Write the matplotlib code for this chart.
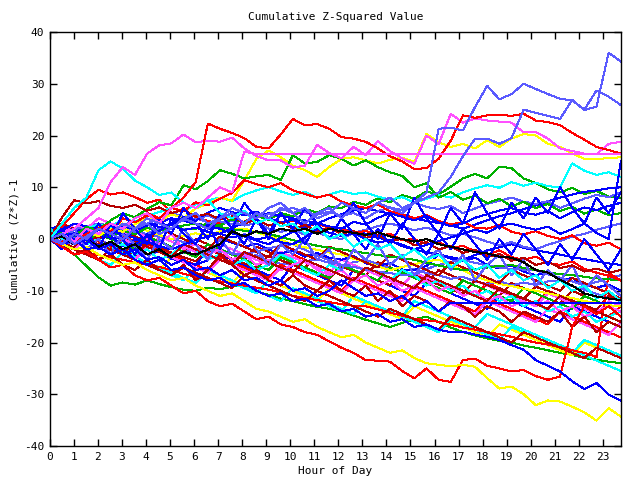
import numpy as np
import matplotlib
matplotlib.use("Agg")
import matplotlib.pyplot as plt

# ---- colours used by the original palette ----
RED = '#ff0000'; DKRED = '#b40000'; GREEN = '#00b000'; BLUE = '#0000ff'
LTBLUE = '#5a5aff'; CYAN = '#00ffff'; MAGENTA = '#ff50ff'; YELLOW = '#ffff00'; BLACK = '#000000'

title = "Cumulative Z-Squared Value"
xlabel = "Hour of Day"
ylabel = "Cumulative (Z*Z)-1"
xticks = list(range(24))
yticks = [-40, -30, -20, -10, 0, 10, 20, 30, 40]

# ---- series (~every half hour from 0 to 23.75 h) ----
s_ltblue_a = [0, 1, -1, 0.5, 2, 1, 3, 2,  4, 3, 2, 4, 5, 3, 4, 6,  5, 4, 6, 7, 5, 6, 4, 5,
              7, 6, 5, 7, 8, 6, 7, 9,  21.3, 21.5, 21, 25.5, 29.6, 27, 28, 30,  29, 28, 27.1, 26.8, 25, 28.7, 27.5, 25.9]
s_ltblue_b = [0, -1, 1, 0, 2, 1, 0, 2,  3, 1, 2, 4, 3, 2, 4, 5,  3, 5, 4, 6, 5, 3, 5, 6,
              4, 6, 5, 7, 6, 5, 7, 8,  9, 12, 16, 19.4, 19.4, 18.4, 19.5, 25,  24.4, 23.8, 23.2, 26.9, 24.9, 25.6, 36, 34.3]
s_mag_flat = [0, 1, -0.5, 2, 1, 3, 2, 4,  5, 3, 6, 7, 6, 8, 10, 9,  16.9, 16.4, 16.4, 16.4, 16.4, 16.4, 16.4, 16.4,
              16.4, 16.4, 16.4, 16.4, 16.4, 16.4, 16.4, 16.4,  16.4, 16.4, 16.4, 16.4, 16.4, 16.4, 16.4, 16.4,
              16.4, 16.4, 16.4, 16.4, 16.4, 16.4, 16.4, 16.4]
s_mag_high = [0, 1, 2, 4, 6, 11, 13.9, 12.4,  16.5, 18.1, 18.5, 20.2, 18.7, 19, 18.8, 19.6,
              17.5, 16, 15.2, 15.2, 13.8, 14.2, 18.2, 16.6,  15.6, 17.8, 16.2, 18.9, 17, 15.6, 14.5, 20,
              18.3, 24.2, 22.5, 23.3, 22.9, 22.7, 22.5, 20.6,  20.7, 19.4, 17.5, 17, 16.5, 16.4, 18.4, 18.8]
s_red_high = [0, 1, -0.5, 1, 2, 3, 2, 4,  5, 4, 6, 8, 11, 22.3, 21.3, 20.5,
              19.5, 17.8, 17.5, 20.2, 23.2, 22, 22.2, 21.3,  19.7, 19.4, 18.8, 17.5, 16, 15, 13.5, 13.7,
              15.5, 19, 23.9, 23.4, 23.9, 24, 23.8, 24.2,  22.9, 22.6, 22, 20.5, 19.2, 17.8, 17.2, 16.5]
s_cyan_high = [0, 3, 6, 8, 13.3, 15, 13.6, 11.3,  10, 8.5, 9, 7, 6, 7.5, 5, 4,
               5.5, 3, 4, 2.5, 3, 1, 2.5, 0,  1, -1.5, 0, -2, -1, -3.5, -2, -4,
               -3, -5.5, -4, -6, -5, -7.5, -6, -8,  -7, -9.5, -8, -10, -9, -11.5, -10, -12]
s_yel_low = [0, -1, -2, -1.5, -3, -4, -5, -4.5,  -6, -7, -8, -7.5, -9, -10, -11, -10.5,
             -12, -13.5, -14, -15, -16, -15.5, -17, -18,  -19, -18.5, -20, -21, -22, -21.5, -23, -24,
             -24.3, -24.6, -24.3, -24.7, -26.9, -28.9, -28.5, -30,  -32.1, -31.2, -31.4, -32.4, -33.5, -35.1, -32.7, -34.3]
s_blue_low = [0, -1, 0, -2, -1.5, -3, -2, -4,  -5, -4, -6, -5.5, -7, -8, -7.5, -9,
              -8.5, -10, -11, -10.5, -12, -11.5, -13, -12.5,  -14, -13.5, -15, -14.5, -16, -15.5, -17, -16.5,
              -17.5, -18, -17.9, -18.5, -18.9, -19.5, -20.5, -21.4,  -23.4, -24.5, -25.6, -27.5, -29, -27.8, -30.1, -31.2]
s_red_low = [0, -1.5, -3, -2.5, -4, -5.5, -5, -7,  -8, -7.5, -9, -10.5, -10, -12, -13, -12.5,
             -14, -15.5, -15, -16.5, -17, -18, -18.5, -19.8,  -21, -22, -23.4, -23.5, -23.7, -25.5, -26.9, -25,
             -27.2, -27.6, -23.4, -23.1, -24.5, -25, -25.6, -25.3,  -26.5, -27.2, -26.6, -17, -13, -14.5, -13, -15]
s_blue_flat = [0, 1, -1, 0, -2, -1, -3, -2,  -4, -3.5, -5, -4, -6, -5.5, -7, -6,
               -8, -7.5, -9, -8, -10, -9.5, -11, -10,  -8, -9.5, -11, -10.5, -12, -11, -13, -12,
               -14, -12.3, -12.3, -12.3, -12.3, -12.3, -12.3, -12.3,  -12.3, -12.3, -12.3, -12.3, -12.3, -12.3, -12.3, -12.3]
s_black = [0, 0.5, -1, 0, -1.5, -0.5, -2, -1,  -3, -2, -3.5, -2.5, -3, -2, -1, 1.5,
           0.5, 1.5, 1, 2, 1.5, 2, 1, 2,  1.5, 1.2, 0.8, 1.3, 0.5, 0, -0.5, 0,
           -1, -1.5, -2, -2.5, -2.8, -3.4, -3.6, -4.5,  -6, -6.5, -7.9, -9, -10.5, -11.1, -11.5, -11.8]

g01 = [0, -1, 1, 0, -1, -2, 0.5, -0.5, -1.5, -2.5, -3.5, -1, -2, -3, -4, -5,
       -2.5, -3.5, -4.5, -5.5, -3, -4, -5, -6, -7, -8, -5.5, -6.5, -7.5, -8.5, -9.5, -7,
       -8, -9, -10, -11, -8.5, -9.5, -10.5, -11.5, -12.5, -10, -11, -12, -13, -14, -15, -13]
g02 = [1, 0, 3, 2, 1, 0, -1, 1.5, 0.5, -0.5, -1.5, -2.5, 0, -1, -2, -3,
       -4, -1.5, -2.5, -3.5, -4.5, -5.5, -3, -4, -5, -6, -7, -4.5, -5.5, -6.5, -7.5, -8.5,
       -6, -7, -8, -9, -10, -11, -8.5, -9.5, -10.5, -11.5, -12.5, -10, -11, -12, -13, -14]
g03 = [0, 1.2, 0.5, 2.3, 1.8, 3.6, 5, 4.2, 5.8, 7.1, 6.5, 10.4, 9.6, 11.2, 13.3, 12.6,
       11.7, 12.1, 12.4, 11.4, 16.2, 14.6, 14.9, 16.2, 15.5, 14.2, 15.2, 13.9, 12.9, 12.2, 10, 10.8,
       8, 9.1, 7.6, 8.4, 6.9, 7.8, 6.3, 7.2, 6, 6.8, 5.4, 6.2, 4.9, 5.7, 4.6, 5]
g04 = [0, -0.8, 0.4, -0.3, 1.1, 0.5, 1.6, 0.9, 2.2, 1.5, 2.8, 1.9, 2, 3.1, 2.6, 3.8,
       3.2, 4.5, 3.7, 5, 4.4, 5.8, 5.1, 6.3, 6, 7.2, 6.6, 7.9, 7.1, 8.5, 7.8, 9.2,
       8.6, 10.1, 11.7, 12.6, 11.7, 14, 13.7, 11.7, 10.8, 9.6, 9, 9.9, 8.7, 9.3, 8.2, 8]
g05 = [0, 0.8, -0.4, 1.2, 0.6, 2, 1.4, 2.9, 4, 3.3, 4.8, 4.1, 5.9, 6.8, 8, 7.4,
       11.3, 15.5, 17.1, 15.8, 14.2, 13.3, 12, 13.9, 15.5, 15.8, 15.2, 14.6, 15.3, 15.7, 14.9, 20.3,
       18.7, 17.8, 18.4, 17.5, 19.1, 17.8, 19.4, 20.3, 20, 18.4, 17.8, 16.5, 15.5, 15.5, 15.6, 15.8]
g06 = [0, 4.2, 7.5, 6.9, 7.3, 6.4, 6, 6.6, 5.5, 6.1, 5, 5.6, 4.3, 4.9, 3.8, 4.4,
       3, 3.7, 2.6, 3.2, 2, 2.7, 1.5, 2.1, 1, 1.6, 0.2, 0.8, -0.5, 0.1, -1.2, -0.6,
       -2, -1.4, -2.7, -2.1, -3.5, -2.9, -4.2, -3.6, -5, -4.4, -5.6, -5.1, -6.3, -5.7, -6.5, -6]
g07 = [0, 2.4, 5, 7.7, 9.5, 8.6, 9, 8.1, 7, 7.6, 5, 5.8, 4.2, 3.5, 3, 3.9,
       3.3, 4.5, 4, 3.1, 3.6, 2.5, 3, 2.2, 2, 1.1, 1.6, 0.5, 1, -0.2, 0, -1,
       -0.6, -1.8, -1.3, -2.4, -3, -2.2, -3.5, -4, -3.4, -4.6, -5, -4.3, -5.8, -6.5, -7.1, -8]
g08 = [0, -0.6, 0.8, 0.2, 2, 1.4, 4, 3.2, 4.6, 3.9, 6, 5.4, 7.1, 6.5, 7.8, 8.9,
       11.4, 10.6, 10, 10.8, 9.4, 8.7, 8, 8.6, 7.2, 6.5, 6, 6.7, 5.3, 4.8, 4, 4.6,
       3.5, 2.8, 3.3, 2.2, 2, 2.7, 1.4, 0.9, 1.5, 0.6, 0, 0.7, -0.8, -1.3, -0.7, -2]
g09 = [0, 0.7, -0.5, 0.2, -1.3, -0.6, -2, -1.1, 0.5, 1.6, 3, 4.2, 3.5, 5.1, 6, 5.2,
       4.6, 5.3, 4, 3.2, 3.8, 2.6, 3.1, 2.4, 2, 3.3, 2.8, 4.1, 5, 4.3, 3.6, 4.4,
       3.2, 2.5, 3, 4.1, 4.8, 5.5, 6, 5.1, 4.7, 5.4, 4, 5.2, 6.1, 5.6, 6.4, 7]
g10 = [2, 2.6, 1.2, 1.7, 0, 0.6, -1.4, -0.8, -3, -2.3, -3.8, -4.4, -5, -4.1, 0, -0.7,
       -1.5, -0.9, -2, -2.8, -2.2, -3.4, -2.7, -3.6, -4, -3.3, -4.7, -5.2, -4.6, -5.9, -6, -5.2,
       -3, -3.8, -4.3, -3.6, -5, -5.7, -5.1, -6.3, -7, -6.4, -8, -7.5, -8.9, -9.4, -8.8, -10]
g11 = [0, 0.6, 1.1, 0.4, 1.8, 1.2, 2.4, 1.9, 3, 2.3, 2.8, 1.7, 2.2, 1.4, 1, 0.3,
       0.8, -0.1, 0.4, -0.6, -1, 0.3, 2, 1.2, 0.6, 1.1, 0, -0.7, -0.2, -1.4, -2, -1.1,
       -0.4, 0.3, 1, 1.8, 1.2, 2.5, 3, 2.3, 1.8, 2.4, 1, 1.9, 3, 1.2, 0, 15]
g12 = [0, -1, -2, -3, -1, -2, -3, 0, -1, -2, -3, -4, -5, -2, -3, -4,
       -5, -6, -7, -8, -5, -6, -7, -8, -9, -6, -7, -8, -9, -10, -11, -8.5,
       -9.5, -10.5, -11.5, -12.5, -13.5, -11, -12, -13, -14, -15, -16, -13, -14, -15, -16, -17]
g13 = [0, 0.9, 0.3, 1.5, 2, 1.4, 2.7, 3.5, 2.9, 4.1, 5, 4.3, 3.8, 4.6, 3.4, 2.9,
       3, 4.2, 4.8, 5.5, 6, 5.2, 4.7, 5.3, 4.5, 5, 4, 5.4, 6.1, 5.6, 7, 6.2,
       5.8, 6.4, 5, 5.9, 6.8, 7.4, 8, 7.2, 6.8, 7.3, 6, 6.9, 7.8, 8.5, 8.1, 9]
g14 = [1, 1.5, 0.4, 0.9, -0.3, -1, -0.4, -1.7, -3, -2.4, -3.3, -2.6, -1.9, -2.5, -2, -2.9,
       -3.6, -3.1, -4.2, -4.8, -5, -4.3, -3.9, -4.6, -5.2, -4.5, -4, -4.9, -5.6, -6.3, -5.8, -6.6,
       -7, -7.7, -7.3, -8.2, -8.7, -8.1, -9, -8.4, -8.9, -8.2, -8, -9.1, -9.8, -10.6, -11.3, -12]
g15 = [0, 0.8, 1.9, 2.4, 3, 2.5, 1.8, 1.3, 1, 2.1, 2.7, 3.6, 4, 3.3, 2.9, 3.5,
       2.6, 3.1, 2, 1.4, 1.9, 0.8, 1.3, 0.4, 0, 1.2, 1.8, 2.5, 3, 2.4, 1.7, 2.2,
       1.5, 0.7, 1, 0.3, -0.5, -1.2, -0.6, -1.5, -2, -1.1, -0.4, 0.5, 1, 1.8, 2.4, 3]
g16 = [0, -1, -2, -3, -4, -2, -3, -4, -5, -6, -7, -8, -5.5, -6.5, -7.5, -8.5,
       -9.5, -10.5, -8, -9, -10, -11, -12, -13, -14, -11, -12, -13, -14, -15, -12, -13,
       -14, -15, -16, -17, -14.5, -15.5, -16.5, -17.5, -18.5, -19.5, -20.5, -21.5, -22.5, -23.5, -24.5, -25.5]
g17 = [0, 1.2, 0.6, 2, 2.8, 2.2, 4, 3.3, 4.5, 5.2, 6, 5.4, 6.7, 7.5, 8, 7.3,
       8.6, 9.4, 10, 9.2, 8.5, 9.1, 8, 8.6, 9.3, 8.7, 9, 8.2, 7.6, 8.1, 7, 7.8,
       8.5, 8, 9, 9.8, 10.4, 9.9, 11, 10.3, 10.9, 10.2, 10, 14.6, 13.2, 12.4, 12.9, 12]
g18 = [0, -1, -2, -3, -4, -5, -2.5, -3.5, -4.5, -5.5, -6.5, -7.5, -8.5, -6, -7, -8,
       -9, -10, -11, -12, -9.5, -10.5, -11.5, -12.5, -13.5, -14.5, -12, -13, -14, -15, -16, -17,
       -18, -15.5, -16.5, -17.5, -18.5, -19.5, -17, -18, -19, -20, -21, -22, -19.5, -20.5, -21.5, -22.5]
g19 = [0, 1.5, 0.5, -0.5, 2, 1, 0, -1, -2, 0.5, -0.5, -1.5, -2.5, -3.5, -1, -2,
       -3, -4, -5, -2.5, -3.5, -4.5, -5.5, -6.5, -4, -5, -6, -7, -8, -9, -6.5, -7.5,
       -8.5, -9.5, -10.5, -8, -9, -10, -11, -12, -13, -10.5, -11.5, -12.5, -13.5, -14.5, -12, -13]
g20 = [0, -1, -2, 0, -1, -2, -3, -4, -1.5, -2.5, -3.5, -4.5, -5.5, -6.5, -4, -5,
       -6, -7, -8, -5.5, -6.5, -7.5, -8.5, -9.5, -10.5, -8, -9, -10, -11, -12, -9.5, -10.5,
       -11.5, -12.5, -13.5, -14.5, -12, -13, -14, -15, -16, -13.5, -14.5, -15.5, -16.5, -17.5, -18.5, -16]
g21 = [0, -1, -2, -3, -1, -2, -3, -4, -5, -6, -3.5, -4.5, -5.5, -6.5, -7.5, -8.5,
       -6, -7, -8, -9, -10, -11, -12, -9.5, -10.5, -11.5, -12.5, -13.5, -14.5, -15.5, -13, -14,
       -15, -16, -17, -18, -19, -16.5, -17.5, -18.5, -19.5, -20.5, -21.5, -22.5, -20, -21, -22, -23]
g22 = [0, 0.4, 1, 1.8, 2.4, 2.9, 3, 2.3, 1.6, 0.8, 0, 0.6, 1.1, 0.7, 1.5, 1.9,
       2, 1.3, 0.6, -0.2, -1, -1.6, -2.1, -2.6, -3, -3.8, -4.5, -5.3, -6, -5.4, -4.9, -4.3,
       -4, -5.1, -6, -7.2, -8, -8.7, -9.1, -9.6, -10, -10.5, -11, -11.4, -12, -12.3, -12.8, -13]
g23 = [0, -1.5, -3, -5.2, -7.4, -9, -8.4, -8.8, -8, -8.7, -9.3, -9.8, -10, -9.4, -9.7, -9.2,
       -9, -10.1, -10.8, -11.5, -12, -12.6, -13.1, -13.5, -14, -14.8, -15.6, -16.3, -17, -16.2, -15.5, -15,
       -16, -17.1, -18, -18.6, -19.2, -19.7, -20, -20.6, -21, -21.5, -22, -22.4, -23, -23.3, -23.7, -24]
g24 = [0, 1, 0, 2, 1, 0, -1, -2, 0.5, -0.5, -1.5, -2.5, -3.5, -1, -2, -3,
       -4, -5, -6, -3.5, -4.5, -5.5, -6.5, -7.5, -5, -6, -7, -8, -5.5, -6.5, -7.5, -8.5,
       -9.5, -10.5, -8, -9, -10, -11, -12, -9.5, -10.5, -11.5, -12.5, -13.5, -11, -12, -13, -14]
g25 = [0, -0.8, -1.6, 0.5, -0.3, -1.2, -2, -2.9, -0.8, -1.7, -2.6, -3.5, -4.3, -2, -2.9, -3.8,
       -4.7, -5.6, -3.2, -4.1, -5, -5.9, -6.8, -7.7, -5.3, -6.2, -7.1, -8, -8.9, -6.1, -7, -7.9,
       -8.8, -9.7, -10.6, -8, -8.9, -9.8, -10.7, -11.6, -9.2, -10.1, -11, -11.9, -12.8, -13.7, -11, -12]
g26 = [1, 3, 2, 1, 0, 2.5, 1.5, 0.5, -0.5, 2, 1, 0, -1, -2, 0.5, -0.5,
       -1.5, -2.5, -3.5, -1, -2, -3, -4, -1.5, -2.5, -3.5, -4.5, -5.5, -3, -4, -5, -6,
       -7, -4.5, -5.5, -6.5, -7.5, -8.5, -6, -7, -8, -9, -10, -7.5, -8.5, -9.5, -10.5, -11.5]
g27 = [0, -1.2, -2, -2.6, -3.1, -3.6, -4, -4.5, -5, -5.4, -6, -6.7, -7.3, -7.8, -8.2, -8.6,
       -9, -9.4, -9.8, -10.3, -11, -11.4, -11.8, -12.2, -12.6, -12.9, -13, -13.6, -14.2, -14.8, -15.4, -15.7,
       -16, -16.6, -17.1, -17.5, -18, -18.4, -18.9, -19.5, -20, -20.4, -20.9, -21.5, -22, -22.8, -6.6, -8]
g28 = [0, 1.1, 2, 1.3, 0.8, 0.3, 0, 1.4, 2.6, 3.2, 4, 3.5, 3, 2.4, 2, 1.1,
       0.5, -0.3, -1, 0.2, 1.4, 2.3, 3, 2.4, 2, 1.5, 1, 0.3, -0.4, -1.1, -2, -2.6,
       -3, -3.5, -4, -3.1, -2.2, -1.6, -1, -1.7, -2.2, -2.6, -3, -3.5, -3.9, -4.3, -4.7, -5]
g29 = [0, -0.4, -1, 0.2, 0.9, 1.5, 2, 1.3, 0.9, 0.4, 0, -0.6, -1.2, -1.9, -2.5, -2.8,
       -3, -2.4, -1.8, -1.3, -1, -2.1, -3.2, -4.1, -5, -5.4, -5.9, -6.3, -6.6, -6.9, -7, -5.8,
       -5, -4.4, -4, -4.6, -5.1, -5.5, -5.8, -5.9, -6, -6.8, -7.5, -8.2, -9, -8.3, -7.6, -7]
g30 = [0, 1.6, 3, 2.4, 2, 1.5, 1, 0.2, -0.6, -1.4, -2, -1.1, -0.2, 0.5, 1, 2.1,
       3.2, 4.1, 5, 4.5, 4, 3.6, 3, 4, 4.8, 5.5, 6, 5.4, 4.9, 4.5, 4, 3.5,
       3.1, 2.6, 2, 2.8, 3.6, 4.4, 5, 5.8, 6.5, 7.3, 8, 8.6, 9.1, 9.4, 9.8, 10]
g31 = [0, -1, 1, 0, -1, -2, -3, -0.5, -1.5, -2.5, -3.5, -1, -2, -3, -4, -5,
       -2.5, -3.5, -4.5, -5.5, -6.5, -4, -5, -6, -7, -8, -5.5, -6.5, -7.5, -8.5, -9.5, -7,
       -8, -9, -10, -11, -12, -9.5, -10.5, -11.5, -12.5, -13.5, -11, -12, -13, -14, -15, -16]
g32 = [0, 0.6, 1.1, 1.5, 2, 1.7, 1.4, 1.2, 1, 1.6, 2.1, 2.6, 3, 2.6, 2.3, 1.9,
       1.6, 1.3, 1, 0.4, -0.2, -0.8, -1.3, -1.7, -2, -2.4, -2.7, -3.1, -3.4, -3.7, -4, -4.6,
       -5.1, -5.6, -6, -5.8, -5.5, -5.2, -5, -5.6, -6, -6.4, -6.8, -7, -7.3, -7.6, -7.8, -8]
g33 = [0, -1, -2, 0.5, -0.5, -1.5, -2.5, -3.5, -1, -2, -3, -4, -5, -6, -3.5, -4.5,
       -5.5, -6.5, -7.5, -5, -6, -7, -8, -9, -10, -7.5, -8.5, -9.5, -10.5, -11.5, -9, -10,
       -11, -12, -13, -14, -11.5, -12.5, -13.5, -14.5, -15.5, -16.5, -14, -15, -16, -17, -18, -19]
g34 = [0, -1, -2, -3, -4, -2, -3, -4, -5, -6, -7, -5.5, -6.5, -7.5, -8.5, -9.5,
       -7, -8, -9, -10, -11, -12, -10, -11, -12, -13, -14, -15, -13.5, -14.5, -15.5, -16.5,
       -17.5, -15, -16, -17, -18, -19, -20, -18, -19, -20, -21, -22, -23, -21, -22, -23]
g35 = [0, 2, -1, 1.5, -2, 3, 0, -3, 1, -2, 4, 1, -1, 3, -2, 2,
       -1, 4, 0, 5, 2, -1, 3, 0, 4, 1, -2, 2, -1, 3, 0, -3,
       1, -2, 2, -1, -4, 0, -3, 1, -2, -5, -1, -4, 0, -3, -6, -2]
g36 = [1, -1, 2, -2, 0, -3, 1, -1, -4, 0, -2, 2, -1, -4, 0, -3,
       1, -2, -5, -1, -3, 0, -4, -2, -6, -2, -4, -1, -5, -3, -7, -4,
       -2, -6, -3, -8, -5, -3, -7, -4, -9, -6, -8, -5, -10, -7, -9, -11]
g37 = [0, -2, 1, -1, 3, 0, 5, 2, -1, 4, 1, 6, 3, 0, 5, 2,
       7, 4, 1, 5, 2, 6, 3, 0, 4, 7, 3, 0, 5, 2, 8, 4,
       1, 6, 3, 9, 5, 2, 7, 4, 8, 5, 10, 6, 3, 8, 5, 9]
g38 = [0, -1, -3, -2, -4, -3, -5, -6, -4, -6, -7, -5, -8, -6, -3, -5,
       -7, -6, -8, -9, -7, -9, -10, -8, -10, -11, -9, -12, -10, -13, -11, -12,
       -14, -12, -13, -15, -13, -14, -16, -14, -15, -16, -14, -17, -15, -18, -16, -17]
g39 = [0, 1, 3, 2, 4, 3, 1, 2, 0, -1, 1, -2, -1, -3, -2, -4,
       -3, -5, -4, -6, -5, -4, -6, -7, -6, -8, -7, -9, -8, -10, -9, -8,
       -10, -9, -11, -10, -12, -11, -13, -12, -13, -12, -14, -13, -15, -14, -13, -14]
g40 = [2, 0, 1, -1, 0, -2, -1, -3, -2, -4, -3, -1, -2, -4, -3, -5,
       -4, -6, -5, -3, -4, -6, -7, -5, -6, -8, -7, -9, -8, -6, -7, -9,
       -8, -10, -9, -11, -10, -12, -11, -13, -12, -14, -13, -15, -14, -16, -15, -14]

series = [
    (g01, RED), (g02, DKRED), (g23, GREEN), (g12, BLUE), (g14, LTBLUE), (g16, CYAN), (g19, MAGENTA), (g21, YELLOW),
    (g33, RED), (g25, DKRED), (g24, GREEN), (g10, BLUE), (g29, LTBLUE), (g18, CYAN), (g20, MAGENTA), (g22, YELLOW),
    (g27, RED), (g26, DKRED), (g32, GREEN), (g28, BLUE), (g15, LTBLUE), (g40, CYAN), (g39, MAGENTA),
    (g07, RED), (g31, DKRED), (g04, GREEN), (g30, BLUE), (g13, LTBLUE), (g17, CYAN), (g05, YELLOW),
    (g08, RED), (g34, DKRED), (g03, GREEN), (g09, BLUE), (g36, LTBLUE), (g06, DKRED), (g38, DKRED),
    (g11, BLUE), (g35, BLUE), (g37, BLUE),
    (s_red_low, RED), (s_yel_low, YELLOW), (s_blue_low, BLUE), (s_cyan_high, CYAN),
    (s_mag_high, MAGENTA), (s_red_high, RED), (s_black, BLACK), (s_blue_flat, BLUE),
    (s_mag_flat, MAGENTA), (s_ltblue_a, LTBLUE), (s_ltblue_b, LTBLUE),
]

FONT = 'DejaVu Sans Mono'
fig = plt.figure(figsize=(6.4, 4.8), dpi=100)
ax = fig.add_axes([0.078, 0.0708, 0.892, 0.8625])

for vals, col in series:
    hours = np.linspace(0, 23.75, len(vals))
    ax.plot(hours, vals, color=col, linewidth=0.72, antialiased=False)

ax.set_xlim(0, 23.75)
ax.set_ylim(-40, 40)
ax.set_xticks(xticks)
ax.set_yticks(yticks)
ax.set_xticklabels([str(t) for t in xticks], fontfamily=FONT, fontsize=8)
ax.set_yticklabels([str(t) for t in yticks], fontfamily=FONT, fontsize=8)
ax.tick_params(direction='in', top=True, right=True, length=5, width=1, colors='black', pad=4)
for sp in ax.spines.values():
    sp.set_linewidth(1.0)
    sp.set_color('black')
ax.set_title(title, fontfamily=FONT, fontsize=8, pad=9)
ax.set_xlabel(xlabel, fontfamily=FONT, fontsize=8, labelpad=3)
ax.set_ylabel(ylabel, fontfamily=FONT, fontsize=8, labelpad=3)

fig.savefig('out.png', dpi=100)
